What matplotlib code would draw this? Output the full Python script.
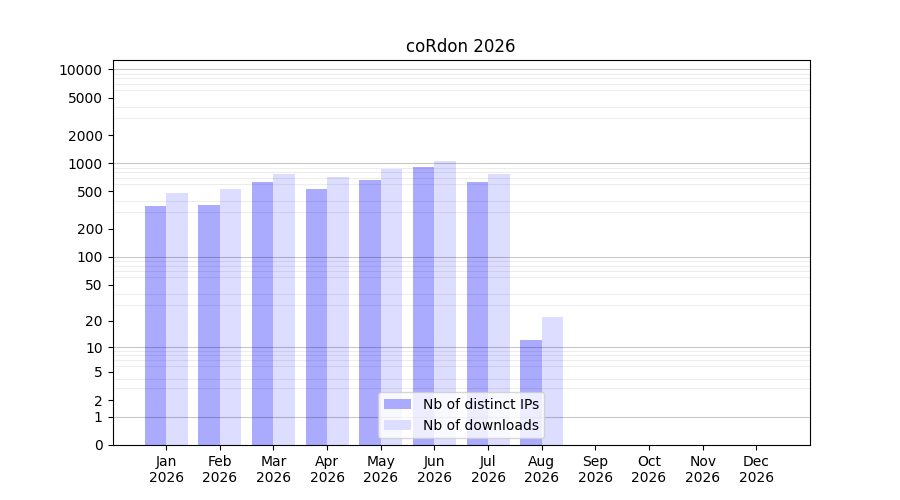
import numpy as np
import matplotlib
matplotlib.use("Agg")
import matplotlib.pyplot as plt
from matplotlib.ticker import FixedLocator, NullFormatter

title = "coRdon 2026"
months = ["Jan", "Feb", "Mar", "Apr", "May", "Jun", "Jul", "Aug", "Sep", "Oct", "Nov", "Dec"]
year = "2026"
distinct_ips = [351, 359, 632, 532, 663, 913, 632, 12, 0, 0, 0, 0]
downloads = [482, 532, 769, 714, 869, 1058, 769, 22, 0, 0, 0, 0]
ytick_values = [0, 1, 2, 5, 10, 20, 50, 100, 200, 500, 1000, 2000, 5000, 10000]
decades = [1, 10, 100, 1000, 10000]

def fwd(x):
    x = np.asarray(x, dtype=float)
    return np.log10(1 + np.clip(x, -0.999999, None))

def inv(y):
    return 10 ** np.asarray(y, dtype=float) - 1

fig, ax = plt.subplots(figsize=(9, 5), dpi=100)
x = np.arange(len(months))
w = 0.4
ax.bar(x - w / 2, distinct_ips, width=w, color="#aaaaff", label="Nb of distinct IPs", zorder=1)
ax.bar(x + w / 2, downloads, width=w, color="#ddddff", label="Nb of downloads", zorder=1)

ax.set_yscale("function", functions=(fwd, inv))
ax.set_ylim(0, inv(4.1))
ax.set_xlim(-1, len(months))

ax.yaxis.set_major_locator(FixedLocator(ytick_values))
ax.set_yticklabels([str(v) for v in ytick_values])
minor = [m * d for d in [1, 10, 100, 1000] for m in range(1, 10)] + [10000]
ax.yaxis.set_minor_locator(FixedLocator(minor))
ax.yaxis.set_minor_formatter(NullFormatter())
ax.tick_params(axis="y", which="minor", length=0)
ax.set_axisbelow(False)
ax.grid(True, axis="y", which="minor", color="black", alpha=0.07, linewidth=0.8)
for d in decades:
    ax.axhline(d, color="black", alpha=0.22, linewidth=0.8, zorder=2)

ax.set_xticks(x)
ax.set_xticklabels([f"{m}\n{year}" for m in months])
ax.set_title(title)
ax.legend(loc="lower center")
fig.savefig("out.png", dpi=100)
